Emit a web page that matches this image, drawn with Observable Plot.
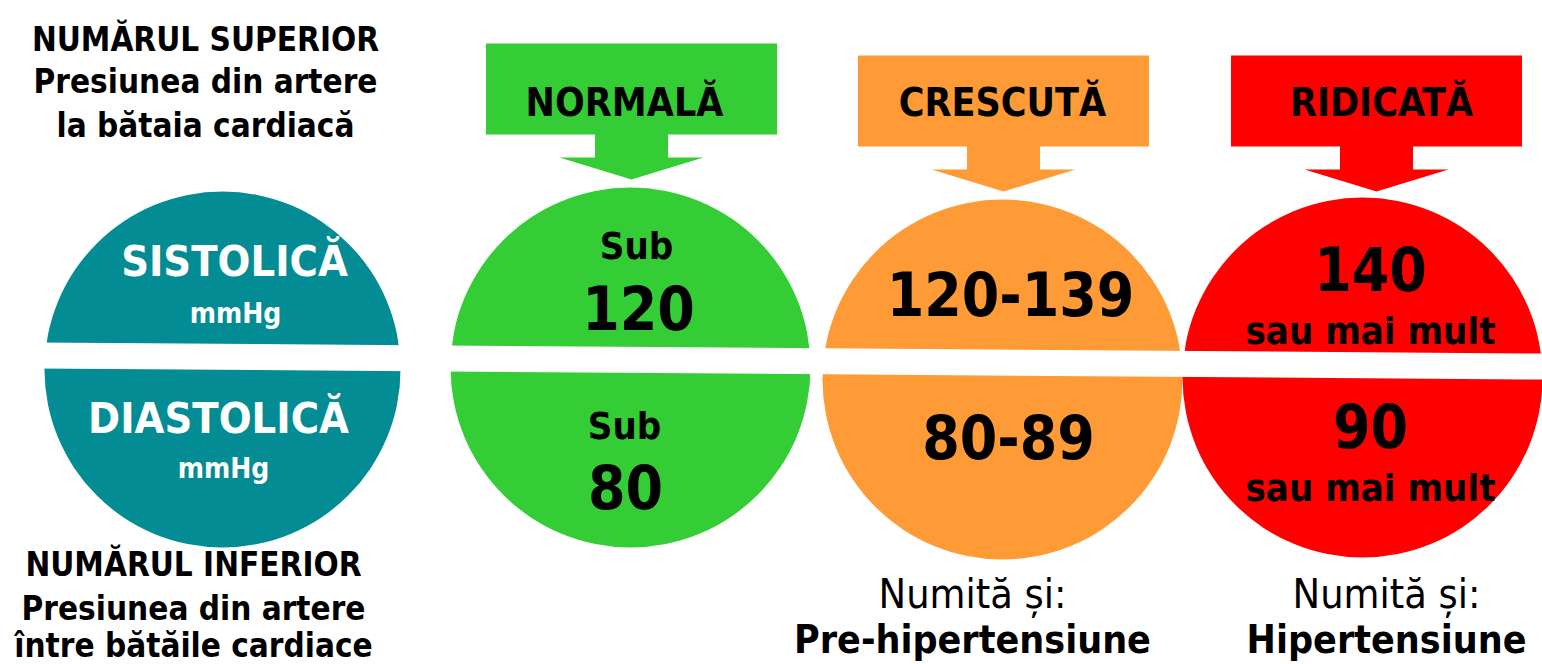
<!DOCTYPE html>
<html>
<head>
<meta charset="utf-8">
<script src="https://cdn.jsdelivr.net/npm/d3@7"></script>
<script src="https://cdn.jsdelivr.net/npm/@observablehq/plot@0.6"></script>
<style>
  html, body { margin: 0; padding: 0; background: #fff; }
  #chart svg { display: block; }
</style>
</head>
<body>
<div id="chart"></div>
<script>
// ---------- DATA ----------
const categories = ["NORMALĂ", "CRESCUTĂ", "RIDICATĂ"];
const categoryColors = ["#34cd35", "#fe9b37", "#ff0000"];
const systolicPrefix = ["Sub", "", ""];
const systolicValues = ["120", "120-139", "140"];
const systolicSuffix = ["", "", "sau mai mult"];
const diastolicPrefix = ["Sub", "", ""];
const diastolicValues = ["80", "80-89", "90"];
const diastolicSuffix = ["", "", "sau mai mult"];
const aliasLead = ["", "Numită și:", "Numită și:"];
const aliasNames = ["", "Pre-hipertensiune", "Hipertensiune"];
const keyLabels = ["SISTOLICĂ", "DIASTOLICĂ"];
const keyUnit = "mmHg";
const keyColor = "#038c94";
const topNote = ["NUMĂRUL SUPERIOR", "Presiunea din artere", "la bătaia cardiacă"];
const bottomNote = ["NUMĂRUL INFERIOR", "Presiunea din artere", "între bătăile cardiace"];

// ---------- LAYOUT ----------
const W = 1542, H = 664;
const FONT = "'DejaVu Sans Condensed', 'DejaVu Sans', sans-serif";
const circleCx = [630, 1002, 1362];
const circleCy = [367, 379, 377];
const circleR = 180;
const key = {cx: 222, cy: 369, r: 178};
const arrowCx = [631, 1003, 1376];
const arrowTop = [43, 55, 55];
const box = {w: 291, h: 91}, stem = {w: 73, h: 23}, head = {hw: 72, h: 22};
// text positions per category: [x, baseline]
const posSysPrefix = [[636, 258], null, null];
const posSysValue = [[638, 329], [1010, 315], [1370, 290]];
const posSysSuffix = [null, null, [1370, 343]];
const posDiaPrefix = [[624, 438], null, null];
const posDiaValue = [[625, 508], [1008, 458], [1370, 447]];
const posDiaSuffix = [null, null, [1370, 500]];
const aliasX = [0, 972, 1386];
const catLabelX = [624, 1002, 1381];
const catLabelY = 115;
const band = {x0: 0, y0: 342 + 13 - 0.3, x1: W, y1: 342 + 13 + (W - 42) * 0.0072 + 0.3, w: 26};

// ---------- BUILD MARK TABLES ----------
const circles = [
  {x: key.cx, y: key.cy, r: key.r, fill: keyColor},
  ...categories.map((c, i) => ({x: circleCx[i], y: circleCy[i], r: circleR, fill: categoryColors[i]}))
];

const arrows = [];
categories.forEach((c, i) => {
  const cx = arrowCx[i], t = arrowTop[i];
  const yb = t + box.h, ys = yb + stem.h, yt = ys + head.h;
  const pts = [
    [cx - box.w / 2, t], [cx + box.w / 2, t], [cx + box.w / 2, yb],
    [cx + stem.w / 2, yb], [cx + stem.w / 2, ys], [cx + head.hw, ys],
    [cx, yt], [cx - head.hw, ys], [cx - stem.w / 2, ys], [cx - stem.w / 2, yb],
    [cx - box.w / 2, yb]
  ];
  pts.forEach(([x, y]) => arrows.push({id: c, x, y, fill: categoryColors[i]}));
});

const bandPts = [{x: band.x0, y: band.y0}, {x: band.x1, y: band.y1}];

const bigTexts = [], smallTexts = [];
categories.forEach((c, i) => {
  if (systolicPrefix[i]) smallTexts.push({x: posSysPrefix[i][0], y: posSysPrefix[i][1], t: systolicPrefix[i]});
  bigTexts.push({x: posSysValue[i][0], y: posSysValue[i][1], t: systolicValues[i]});
  if (systolicSuffix[i]) smallTexts.push({x: posSysSuffix[i][0], y: posSysSuffix[i][1], t: systolicSuffix[i]});
  if (diastolicPrefix[i]) smallTexts.push({x: posDiaPrefix[i][0], y: posDiaPrefix[i][1], t: diastolicPrefix[i]});
  bigTexts.push({x: posDiaValue[i][0], y: posDiaValue[i][1], t: diastolicValues[i]});
  if (diastolicSuffix[i]) smallTexts.push({x: posDiaSuffix[i][0], y: posDiaSuffix[i][1], t: diastolicSuffix[i]});
});

const catLabels = categories.map((c, i) => ({x: catLabelX[i], y: catLabelY, t: c}));
const keyTitles = [{x: 234, y: 275, t: keyLabels[0]}, {x: 218, y: 432, t: keyLabels[1]}];
const keyUnits = [{x: 235, y: 322, t: keyUnit}, {x: 223, y: 477, t: keyUnit}];
const leads = aliasLead.map((t, i) => ({x: aliasX[i], y: 607, t})).filter(d => d.t);
const names = aliasNames.map((t, i) => ({x: aliasX[i], y: 652, t})).filter(d => d.t);
const noteY = [50, 92, 136], noteY2 = [575, 619, 656];
const notes = [
  ...topNote.map((t, i) => ({x: 205, y: noteY[i], t})),
  ...bottomNote.map((t, i) => ({x: 193, y: noteY2[i], t}))
];

const txt = (data, opts) => Plot.text(data, {
  x: "x", y: "y", text: "t", textAnchor: "middle", lineAnchor: "bottom",
  fontFamily: FONT, fontWeight: "bold", fill: "black", ...opts
});

const chart = Plot.plot({
  width: W, height: H, margin: 0,
  x: {domain: [0, W], range: [0, W], axis: null},
  y: {domain: [0, H], range: [0, H], axis: null},
  r: {type: "identity"},
  color: {type: "identity"},
  style: {background: "white"},
  marks: [
    Plot.dot(circles, {x: "x", y: "y", r: "r", fill: "fill", stroke: null}),
    Plot.line(bandPts, {x: "x", y: "y", stroke: "white", strokeWidth: band.w}),
    Plot.line(arrows, {x: "x", y: "y", z: "id", fill: "fill", stroke: null, curve: "linear-closed"}),
    txt(catLabels, {fontSize: 39}),
    txt(bigTexts, {fontSize: 60}),
    txt(smallTexts, {fontSize: 38}),
    txt(keyTitles, {fontSize: 43, fill: "white"}),
    txt(keyUnits, {fontSize: 28, fill: "white"}),
    txt(notes, {fontSize: 33}),
    txt(leads, {fontSize: 41, fontWeight: "normal"}),
    txt(names, {fontSize: 39})
  ]
});
document.getElementById("chart").appendChild(chart);
</script>
</body>
</html>
